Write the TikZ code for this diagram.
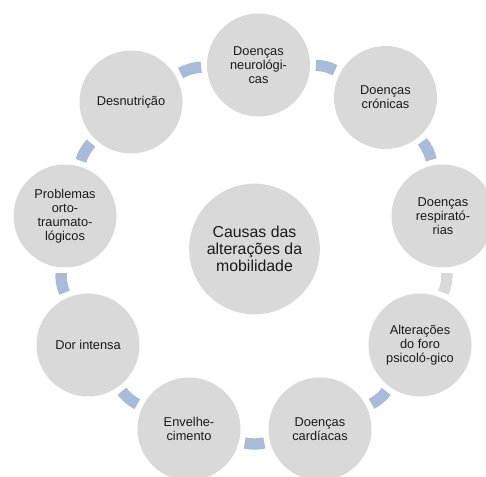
\documentclass[tikz,border=0pt]{standalone}
\usepackage{fontspec}
\setmainfont{Liberation Sans}
\definecolor{bola}{RGB}{217,217,217}
\definecolor{elo}{RGB}{169,187,218}
\definecolor{texto}{RGB}{26,26,26}
\begin{document}
\begin{tikzpicture}[x=0.75pt,y=-0.75pt,
  causa/.style={circle,fill=bola,inner sep=0pt,minimum size=77.25pt,align=center,text=texto,font=\fontsize{9.6}{10.5}\selectfont},
  centro/.style={circle,fill=bola,inner sep=0pt,minimum size=98pt,align=center,text=texto,font=\fontsize{11.9}{12.6}\selectfont},
  ligacao/.style={draw=elo,line width=8.5pt,bend left=14,shorten <=4.2pt,shorten >=4.2pt}]
\useasboundingbox (0,0) rectangle (486,477);
\clip (0,0) rectangle (486,477);
\node[centro] (causas) at (254.5,249) {Causas das\\alterações da\\mobilidade};
\node[causa] (neuro) at (258.5,65) {Doenças\\neurológi-\\cas};
\node[causa] (cronicas) at (385.5,97.5) {Doenças\\crónicas};
\node[causa] (resp) at (443,216) {Doenças\\respirató-\\rias};
\node[causa] (psico) at (420,345) {Alterações\\do foro\\psicoló-gico};
\node[causa] (cardio) at (320,429) {Doenças\\cardíacas};
\node[causa] (envelh) at (189,429) {Envelhe-\\cimento};
\node[causa] (dor) at (88,345) {Dor intensa};
\node[causa] (orto) at (65,216) {Problemas\\orto-\\traumato-\\lógicos};
\node[causa] (desnut) at (131,102) {Desnutrição};
% ligacoes em volta do anel
\draw[ligacao] (neuro) to (cronicas);
\draw[ligacao] (cronicas) to (resp);
\draw[ligacao,draw=bola] (resp) to (psico);
\draw[ligacao] (psico) to (cardio);
\draw[ligacao] (cardio) to (envelh);
\draw[ligacao] (envelh) to (dor);
\draw[ligacao] (dor) to (orto);
\draw[ligacao] (orto) to (desnut);
\draw[ligacao] (desnut) to (neuro);
\end{tikzpicture}
\end{document}
